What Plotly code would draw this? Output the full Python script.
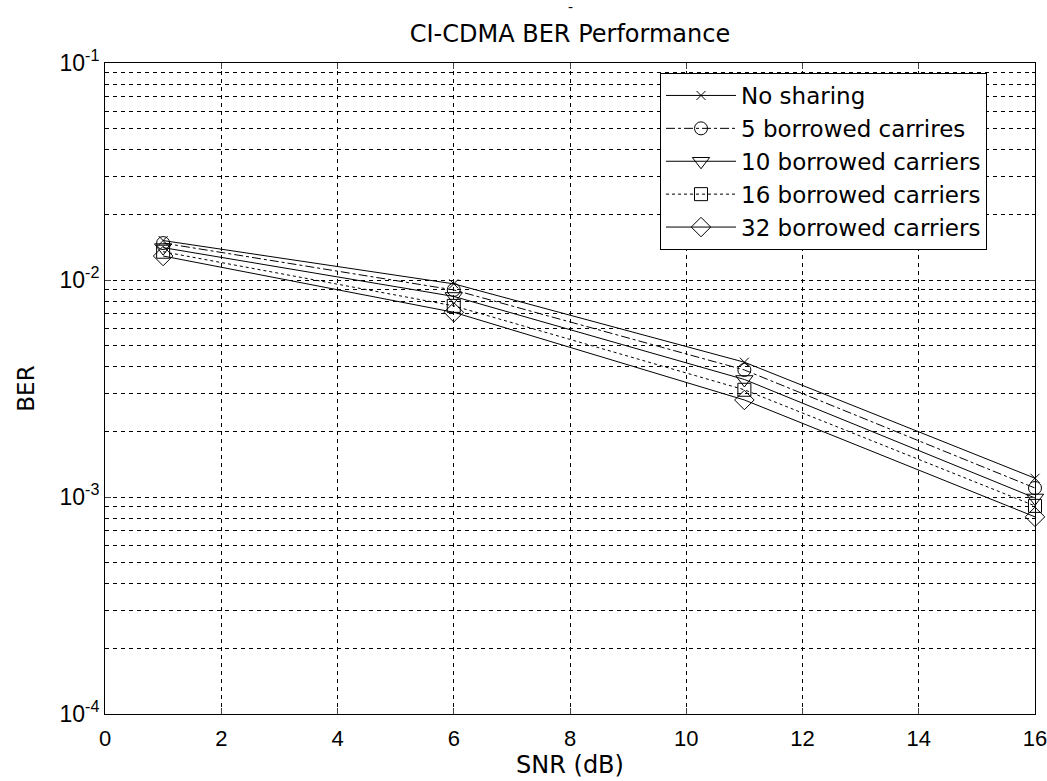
import plotly.graph_objects as go

# SNR points (dB) and measured bit error rates for each carrier-sharing case
snr_db = [1, 6, 11, 16]
ber_no_sharing = [0.0152, 0.0096, 0.00418, 0.00122]
ber_5_borrowed = [0.0148, 0.0090, 0.00385, 0.00110]
ber_10_borrowed = [0.0141, 0.0084, 0.00348, 0.00099]
ber_16_borrowed = [0.0135, 0.0076, 0.00312, 0.00091]
ber_32_borrowed = [0.0129, 0.0071, 0.00280, 0.00081]

series_names = [
    "No sharing",
    "5 borrowed carrires",
    "10 borrowed carriers",
    "16 borrowed carriers",
    "32 borrowed carriers",
]

y_major = [1e-4, 1e-3, 1e-2, 1e-1]
y_major_text = ["10<sup>-4</sup>", "10<sup>-3</sup>", "10<sup>-2</sup>", "10<sup>-1</sup>"]
y_minor = [m * 10.0 ** e for e in (-4, -3, -2) for m in range(2, 10)]
x_ticks = list(range(0, 17, 2))

TEXT_FONT = "DejaVu Sans, Verdana, sans-serif"
TICK_FONT = "Liberation Sans, Arial, sans-serif"

styles = [
    dict(symbol="x-thin-open", size=9, dash="solid"),
    dict(symbol="circle-open", size=13, dash="dashdot"),
    dict(symbol="triangle-down-open", size=15, dash="solid"),
    dict(symbol="square-open", size=13, dash="dot"),
    dict(symbol="diamond-open", size=15, dash="solid"),
]
series = [ber_no_sharing, ber_5_borrowed, ber_10_borrowed, ber_16_borrowed, ber_32_borrowed]

fig = go.Figure()
for name, ys, st in zip(series_names, series, styles):
    fig.add_trace(go.Scatter(
        x=snr_db, y=ys, name=name, mode="lines+markers", cliponaxis=False,
        line=dict(color="black", width=1, dash=st["dash"]),
        marker=dict(symbol=st["symbol"], size=st["size"], color="black",
                    line=dict(color="black", width=1)),
    ))

fig.update_layout(
    width=1047, height=781,
    margin=dict(l=105, r=12, t=63, b=67),
    paper_bgcolor="white", plot_bgcolor="white",
    font=dict(family=TEXT_FONT, size=20, color="black"),
    title=dict(text="CI-CDMA BER Performance", x=0.5, xref="paper",
               y=1 - 34 / 781, yanchor="middle",
               font=dict(family=TEXT_FONT, size=24)),
    legend=dict(
        x=(660 - 105) / 930, y=(714 - 73) / 651, xanchor="left", yanchor="top",
        bgcolor="white", bordercolor="black", borderwidth=1,
        font=dict(family=TEXT_FONT, size=23), itemwidth=70, tracegroupgap=0,
    ),
    showlegend=True,
)

fig.update_xaxes(
    range=[0, 16], tickvals=x_ticks, ticks="inside", ticklen=6,
    showline=True, linecolor="black", linewidth=1, mirror="ticks",
    showgrid=True, gridcolor="black", gridwidth=1, griddash="4px,4px",
    zeroline=False, tickfont=dict(family=TICK_FONT, size=22),
    ticklabelstandoff=5, ticklabeloverflow="allow", automargin=False,
    title=dict(text="SNR (dB)", font=dict(family=TEXT_FONT, size=24), standoff=2),
)

fig.update_yaxes(
    type="log", range=[-4, -1], tickvals=y_major, ticktext=y_major_text,
    ticks="inside", ticklen=6, automargin=False,
    showline=True, linecolor="black", linewidth=1, mirror="ticks",
    showgrid=True, gridcolor="black", gridwidth=1, griddash="4px,4px",
    zeroline=False, tickfont=dict(family=TICK_FONT, size=23),
    minor=dict(tickvals=y_minor, ticks="inside", ticklen=3, tickcolor="black",
               showgrid=True, gridcolor="black", gridwidth=1, griddash="4px,4px"),
    title=dict(text="BER", font=dict(family=TEXT_FONT, size=23), standoff=18),
)

# small mark above the title
fig.add_annotation(text="-", xref="paper", yref="paper", x=0.5, y=1 + 56 / 651,
                   showarrow=False, font=dict(size=14), yanchor="middle")

fig.write_html("out.html")
